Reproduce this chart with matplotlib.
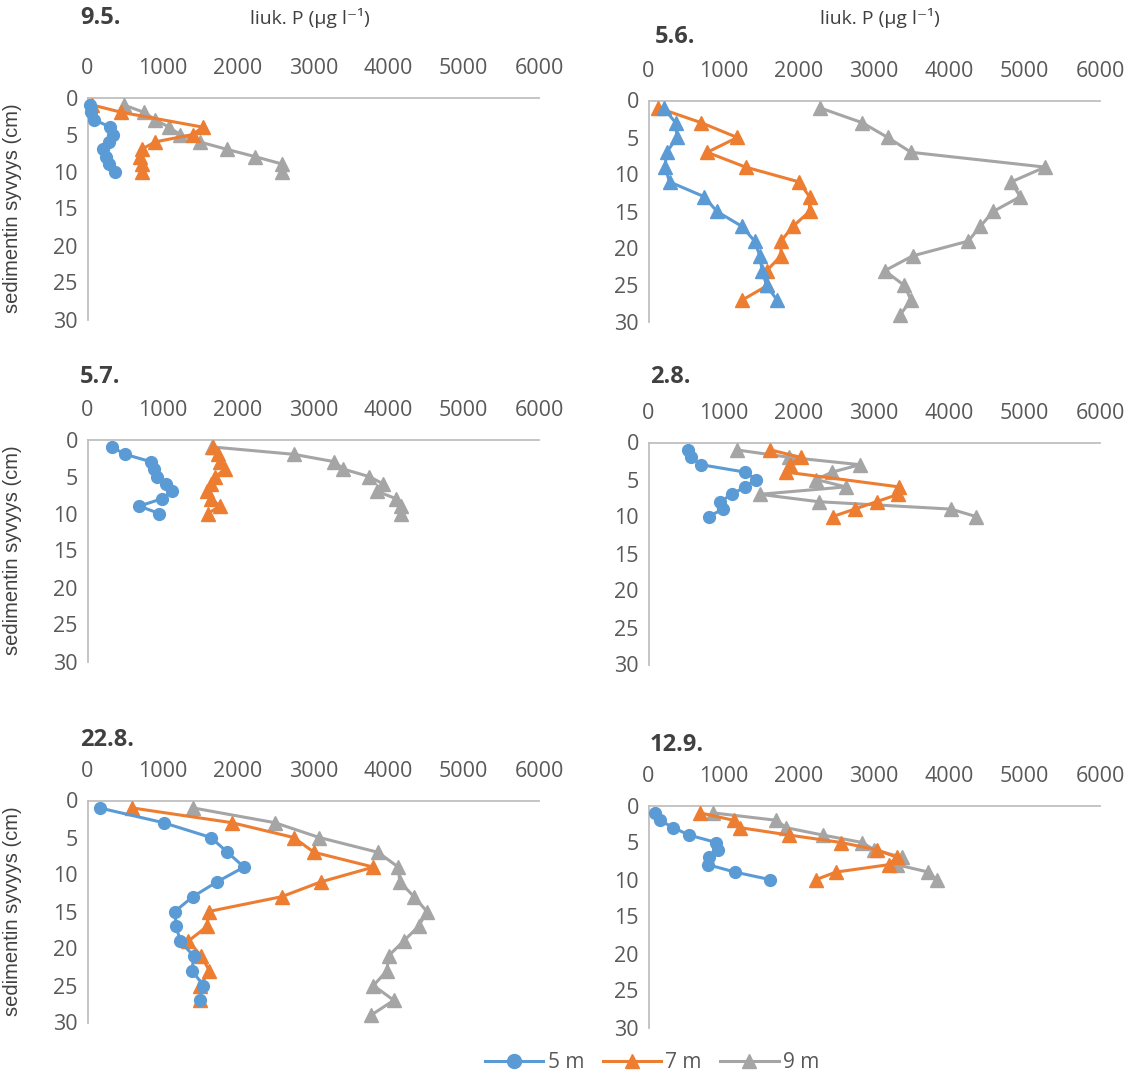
import matplotlib
matplotlib.use("Agg")
import matplotlib.pyplot as plt
from matplotlib.lines import Line2D

plt.rcParams['font.family'] = ['Open Sans', 'DejaVu Sans']

# ---------------- data ----------------
series_names = ["5 m", "7 m", "9 m"]
x_ticks = [0, 1000, 2000, 3000, 4000, 5000, 6000]
y_ticks = [0, 5, 10, 15, 20, 25, 30]

# 9.5.
d95_blue = [1, 2, 3, 4, 5, 6, 7, 8, 9, 10]
v95_blue = [30, 50, 90, 300, 340, 280, 200, 250, 290, 360]
d95_orange = [1, 2, 4, 5, 6, 7, 8, 9, 10]
v95_orange = [60, 450, 1530, 1400, 900, 720, 700, 720, 720]
d95_gray = [1, 2, 3, 4, 5, 6, 7, 8, 9, 10]
v95_gray = [480, 750, 900, 1080, 1230, 1490, 1850, 2230, 2590, 2590]

# 5.6.
d56_blue = [1, 3, 5, 7, 9, 11, 13, 15, 17, 19, 21, 23, 25, 27]
v56_blue = [200, 360, 380, 240, 220, 280, 740, 910, 1240, 1410, 1480, 1510, 1570, 1710]
d56_orange = [1, 3, 5, 7, 9, 11, 13, 15, 17, 19, 21, 23, 25, 27]
v56_orange = [130, 700, 1180, 780, 1290, 2000, 2140, 2140, 1920, 1760, 1760, 1570, 1580, 1240]
d56_gray = [1, 3, 5, 7, 9, 11, 13, 15, 17, 19, 21, 23, 25, 27, 29]
v56_gray = [2280, 2840, 3180, 3490, 5270, 4820, 4940, 4580, 4410, 4250, 3510, 3140, 3400, 3490, 3340]

# 5.7.
d57_blue = [1, 2, 3, 4, 5, 6, 7, 8, 9, 10]
v57_blue = [320, 500, 840, 880, 920, 1040, 1120, 990, 690, 950]
d57_orange = [1, 2, 3, 4, 5, 6, 7, 8, 9, 10]
v57_orange = [1670, 1740, 1760, 1830, 1700, 1640, 1590, 1640, 1760, 1600]
d57_gray = [1, 2, 3, 4, 5, 6, 7, 8, 9, 10]
v57_gray = [1650, 2740, 3280, 3400, 3740, 3930, 3850, 4100, 4160, 4170]

# 2.8.
d28_blue = [1, 2, 3, 4, 5, 6, 7, 8, 9, 10]
v28_blue = [530, 560, 700, 1280, 1430, 1280, 1110, 950, 990, 800]
d28_orange = [1, 2, 3, 4, 6, 7, 8, 9, 10]
v28_orange = [1620, 2020, 1880, 1830, 3330, 3320, 3030, 2740, 2450]
d28_gray = [1, 2, 3, 4, 5, 6, 7, 8, 9, 10]
v28_gray = [1170, 1870, 2810, 2440, 2230, 2620, 1480, 2260, 4020, 4350]

# 22.8.
d228_blue = [1, 3, 5, 7, 9, 11, 13, 15, 17, 19, 21, 23, 25, 27]
v228_blue = [160, 1010, 1640, 1860, 2080, 1720, 1400, 1160, 1180, 1230, 1410, 1390, 1540, 1490]
d228_orange = [1, 3, 5, 7, 9, 11, 13, 15, 17, 19, 21, 23, 25, 27]
v228_orange = [590, 1920, 2740, 3010, 3800, 3100, 2580, 1610, 1590, 1340, 1510, 1620, 1500, 1500]
d228_gray = [1, 3, 5, 7, 9, 11, 13, 15, 17, 19, 21, 23, 25, 27, 29]
v228_gray = [1400, 2490, 3080, 3860, 4130, 4150, 4340, 4510, 4400, 4200, 4000, 3980, 3800, 4070, 3770]

# 12.9.
d129_blue = [1, 2, 3, 4, 5, 6, 7, 8, 9, 10]
v129_blue = [80, 150, 330, 540, 900, 920, 800, 790, 1150, 1610]
d129_orange = [1, 2, 3, 4, 5, 6, 7, 8, 9, 10]
v129_orange = [690, 1130, 1220, 1870, 2560, 3040, 3300, 3190, 2490, 2230]
d129_gray = [1, 2, 3, 4, 5, 6, 7, 8, 9, 10]
v129_gray = [860, 1700, 1830, 2320, 2840, 3000, 3370, 3300, 3720, 3830]

# ---------------- style ----------------
C_BLUE, C_ORANGE, C_GRAY = "#5B9BD5", "#ED7D31", "#A5A5A5"
AX_COLOR = "#BFBFBF"
TXT = "#595959"

W, H = 1138, 1082
fig = plt.figure(figsize=(W / 100, H / 100), dpi=100)


def rect(l, r, t, b):
    return [l / W, 1 - b / H, (r - l) / W, (b - t) / H]


panels = [
    ("9.5.", (80, 18), rect(87.5, 539, 97.5, 319.5),
     (d95_blue, v95_blue, 'o'), (d95_orange, v95_orange), (d95_gray, v95_gray), True),
    ("5.6.", (655, 37), rect(648.5, 1100, 100.5, 322.5),
     (d56_blue, v56_blue, '^'), (d56_orange, v56_orange), (d56_gray, v56_gray), False),
    ("5.7.", (80, 377), rect(87.5, 539, 439.5, 661.5),
     (d57_blue, v57_blue, 'o'), (d57_orange, v57_orange), (d57_gray, v57_gray), True),
    ("2.8.", (650, 377), rect(648.5, 1100, 442.5, 664.5),
     (d28_blue, v28_blue, 'o'), (d28_orange, v28_orange), (d28_gray, v28_gray), False),
    ("22.8.", (80, 740), rect(87.5, 539, 800.5, 1022.5),
     (d228_blue, v228_blue, 'o'), (d228_orange, v228_orange), (d228_gray, v228_gray), True),
    ("12.9.", (650, 745), rect(648.5, 1100, 805.5, 1027.5),
     (d129_blue, v129_blue, 'o'), (d129_orange, v129_orange), (d129_gray, v129_gray), False),
]

LW = 2.2
for title, (tx, ty), r, blue, orange, gray, left in panels:
    ax = fig.add_axes(r)
    ax.plot(gray[1], gray[0], color=C_GRAY, lw=LW, marker='^', ms=9.5,
            clip_on=False, zorder=3)
    ax.plot(orange[1], orange[0], color=C_ORANGE, lw=LW, marker='^', ms=9.5,
            clip_on=False, zorder=4)
    ax.plot(blue[1], blue[0], color=C_BLUE, lw=LW, marker=blue[2],
            ms=8.5 if blue[2] == 'o' else 9.5, clip_on=False, zorder=5)
    ax.set_xlim(0, 6000)
    ax.set_ylim(30, 0)
    ax.set_xticks(x_ticks)
    ax.set_yticks(y_ticks)
    ax.xaxis.tick_top()
    ax.tick_params(axis='x', length=0, pad=13, labelsize=15.5, labelcolor=TXT)
    ax.tick_params(axis='y', length=0, pad=7, labelsize=15.5, labelcolor=TXT)
    for s in ('right', 'bottom'):
        ax.spines[s].set_visible(False)
    for s in ('top', 'left'):
        ax.spines[s].set_color(AX_COLOR)
        ax.spines[s].set_linewidth(1.3)
    ax.set_facecolor('none')
    fig.text(tx / W, 1 - ty / H, title, fontsize=17, fontweight='bold',
             color="#404040", ha='left', va='center')
    if left:
        bb = r[1] + r[3] / 2
        fig.text(13 / W, bb, "sedimentin syvyys (cm)", rotation=90,
                 family=['Liberation Sans', 'DejaVu Sans'], fontsize=14.5,
                 color="#404040", ha='center', va='center')

# axis titles
for cx in (310, 880):
    fig.text(cx / W, 1 - 18 / H, "liuk. P (µg l⁻¹)", fontsize=14, color="#404040",
             ha='center', va='center', family=['Open Sans', 'DejaVu Sans'])

handles = [
    Line2D([], [], color=C_BLUE, lw=LW, marker='o', ms=10),
    Line2D([], [], color=C_ORANGE, lw=LW, marker='^', ms=10.5),
    Line2D([], [], color=C_GRAY, lw=LW, marker='^', ms=10.5),
]
fig.legend(handles, series_names, loc='center', bbox_to_anchor=(652 / W, 1 - 1063 / H),
           ncol=3, frameon=False, fontsize=15, handlelength=2.8, columnspacing=0.9,
           handletextpad=0.2, labelcolor=TXT)

fig.savefig("out.png", dpi=100)
